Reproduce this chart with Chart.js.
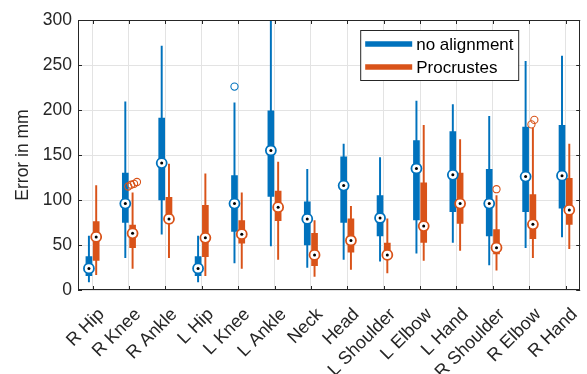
<!DOCTYPE html>
<html>
<head>
<meta charset="utf-8">
<script src="https://cdn.jsdelivr.net/npm/chart.js@4/dist/chart.umd.min.js"></script>
<style>
  html, body { margin: 0; padding: 0; background: #fff; }
  #wrap { width: 587px; height: 374px; }
</style>
</head>
<body>
<div id="wrap"><canvas id="chart"></canvas></div>
<script>
const joints = ['R Hip', 'R Knee', 'R Ankle', 'L Hip', 'L Knee', 'L Ankle', 'Neck', 'Head',
                'L Shoulder', 'L Elbow', 'L Hand', 'R Shoulder', 'R Elbow', 'R Hand'];

// per joint: [lower whisker, q1, median, q3, upper whisker] in mm
const noAlignment = [
  [9, 16, 24, 37, 60], [36, 75, 96, 130, 209], [62, 100, 141, 191, 271], [9, 16, 24, 37, 60],
  [30, 65, 96, 127, 208], [49, 104, 155, 199, 310], [25, 50, 79, 98, 134], [34, 75, 116, 148, 162],
  [32, 60, 80, 105, 147], [41, 78, 135, 166, 210], [53, 87, 128, 176, 206], [28, 60, 96, 134, 193],
  [47, 87, 126, 181, 254], [59, 91, 127, 183, 260],
];
const procrustes = [
  [17, 33, 59, 76, 116], [24, 47, 63, 72, 108], [36, 74, 79, 103, 140], [16, 37, 58, 94, 129],
  [24, 52, 62, 77, 108], [34, 77, 92, 110, 142], [15, 27, 39, 63, 77], [23, 42, 55, 79, 93],
  [19, 35, 39, 52, 79], [33, 53, 71, 119, 183], [44, 74, 96, 130, 167], [22, 40, 47, 67, 105],
  [36, 57, 73, 106, 180], [46, 73, 89, 124, 162],
];
// outliers: [joint index, value]
const noAlignmentOutliers = [[4, 226]];
const procrustesOutliers = [[1, 115], [1, 117], [1, 118], [1, 120], [11, 112], [12, 184], [12, 189]];

const seriesNames = ['no alignment', 'Procrustes'];
const yTicks = [0, 50, 100, 150, 200, 250, 300];

const BLUE = '#0072BD', ORANGE = '#D95319', INK = '#262626';
const FONT = 'Liberation Sans, Arial, Helvetica, sans-serif';

function outlierPoints(list, dx) {
  return list.map(([j, v]) => {
    const same = list.filter(o => o[0] === j);
    const k = same.findIndex(o => o[1] === v);
    const spread = (k - (same.length - 1) / 2) * 0.08;
    return { x: j + 1 + dx + spread, y: v };
  });
}

function boxDatasets(stats, outliers, dx, color) {
  const xs = stats.map((s, i) => i + 1 + dx);
  return [
    { type: 'bar', data: stats.map((s, i) => ({ x: xs[i], y: [s[0], s[4]] })),
      backgroundColor: color, barThickness: 1.3, grouped: false, order: 4 },
    { type: 'bar', data: stats.map((s, i) => ({ x: xs[i], y: [s[1], s[3]] })),
      backgroundColor: color, barThickness: 6, grouped: false, order: 3 },
    { type: 'scatter', data: outlierPoints(outliers, dx), pointRadius: 3.6,
      pointBackgroundColor: 'rgba(0,0,0,0)', pointBorderColor: color, pointBorderWidth: 1.1, order: 2 },
    { type: 'scatter', data: stats.map((s, i) => ({ x: xs[i], y: s[2] })), pointRadius: 5,
      pointBackgroundColor: '#fff', pointBorderColor: color, pointBorderWidth: 1.8, order: 1 },
    { type: 'scatter', data: stats.map((s, i) => ({ x: xs[i], y: s[2] })), pointRadius: 1.5,
      pointBackgroundColor: '#000', pointBorderWidth: 0, order: 0 },
  ];
}

const framePlugin = {
  id: 'frame',
  afterDatasetsDraw(chart) {
    const { ctx, chartArea: a, scales } = chart;
    ctx.save();
    ctx.strokeStyle = INK;
    ctx.lineWidth = 1;
    ctx.strokeRect(Math.round(a.left) + 0.5, Math.round(a.top) + 0.5,
                   Math.round(a.right - a.left) - 1, Math.round(a.bottom - a.top) - 1);
    ctx.beginPath();
    joints.forEach((j, i) => {
      const x = Math.round(scales.x.getPixelForValue(i + 1)) + 0.5;
      ctx.moveTo(x, a.bottom); ctx.lineTo(x, a.bottom - 4);
      ctx.moveTo(x, a.top); ctx.lineTo(x, a.top + 4);
    });
    yTicks.forEach(v => {
      const y = Math.round(scales.y.getPixelForValue(v)) + 0.5;
      ctx.moveTo(a.left, y); ctx.lineTo(a.left + 4, y);
      ctx.moveTo(a.right, y); ctx.lineTo(a.right - 4, y);
    });
    ctx.stroke();

    // legend
    const lx = a.right - 220, ly = a.top + 10, lw = 158, lh = 50;
    ctx.fillStyle = '#fff';
    ctx.fillRect(lx, ly, lw, lh);
    ctx.strokeRect(lx + 0.5, ly + 0.5, lw, lh);
    [BLUE, ORANGE].forEach((c, k) => {
      const y = ly + 14 + k * 23;
      ctx.strokeStyle = c;
      ctx.lineWidth = 5.5;
      ctx.beginPath(); ctx.moveTo(lx + 5, y); ctx.lineTo(lx + 52, y); ctx.stroke();
      ctx.fillStyle = '#000';
      ctx.font = '17px ' + FONT;
      ctx.textBaseline = 'middle';
      ctx.fillText(seriesNames[k], lx + 56, y + 1);
    });
    ctx.restore();
  }
};

new Chart(document.getElementById('chart'), {
  type: 'bar',
  data: {
    datasets: [
      ...boxDatasets(noAlignment, noAlignmentOutliers, -0.1, BLUE),
      ...boxDatasets(procrustes, procrustesOutliers, 0.1, ORANGE),
    ]
  },
  options: {
    responsive: true,
    maintainAspectRatio: false,
    animation: false,
    layout: { padding: { top: 20, right: 0, left: 0, bottom: 0 } },
    plugins: { legend: { display: false }, tooltip: { enabled: false } },
    scales: {
      x: {
        type: 'linear', min: 0.6, max: 14.4, offset: false,
        afterBuildTicks: s => { s.ticks = joints.map((j, i) => ({ value: i + 1 })); },
        afterFit: s => { s.height = 84; s.paddingLeft = 0; s.paddingRight = 0; },
        grid: { color: '#e3e3e3', offset: false, drawTicks: false },
        border: { display: false },
        ticks: {
          autoSkip: false, minRotation: 45, maxRotation: 45, padding: 14, labelOffset: 9,
          color: INK, font: { family: FONT, size: 18 },
          callback: v => joints[Math.round(v) - 1],
        },
      },
      y: {
        min: 0, max: 300,
        afterBuildTicks: s => { s.ticks = yTicks.map(v => ({ value: v })); },
        afterFit: s => { s.width = 78; s.paddingTop = 0; s.paddingBottom = 0; },
        grid: { color: '#e3e3e3', drawTicks: false },
        border: { display: false },
        ticks: { padding: 6, color: INK, font: { family: FONT, size: 17.5 } },
        title: { display: true, text: 'Error in mm', color: INK,
                 font: { family: FONT, size: 17.5 }, padding: { top: 13, bottom: 0 } },
      },
    },
  },
  plugins: [framePlugin],
});
</script>
</body>
</html>
